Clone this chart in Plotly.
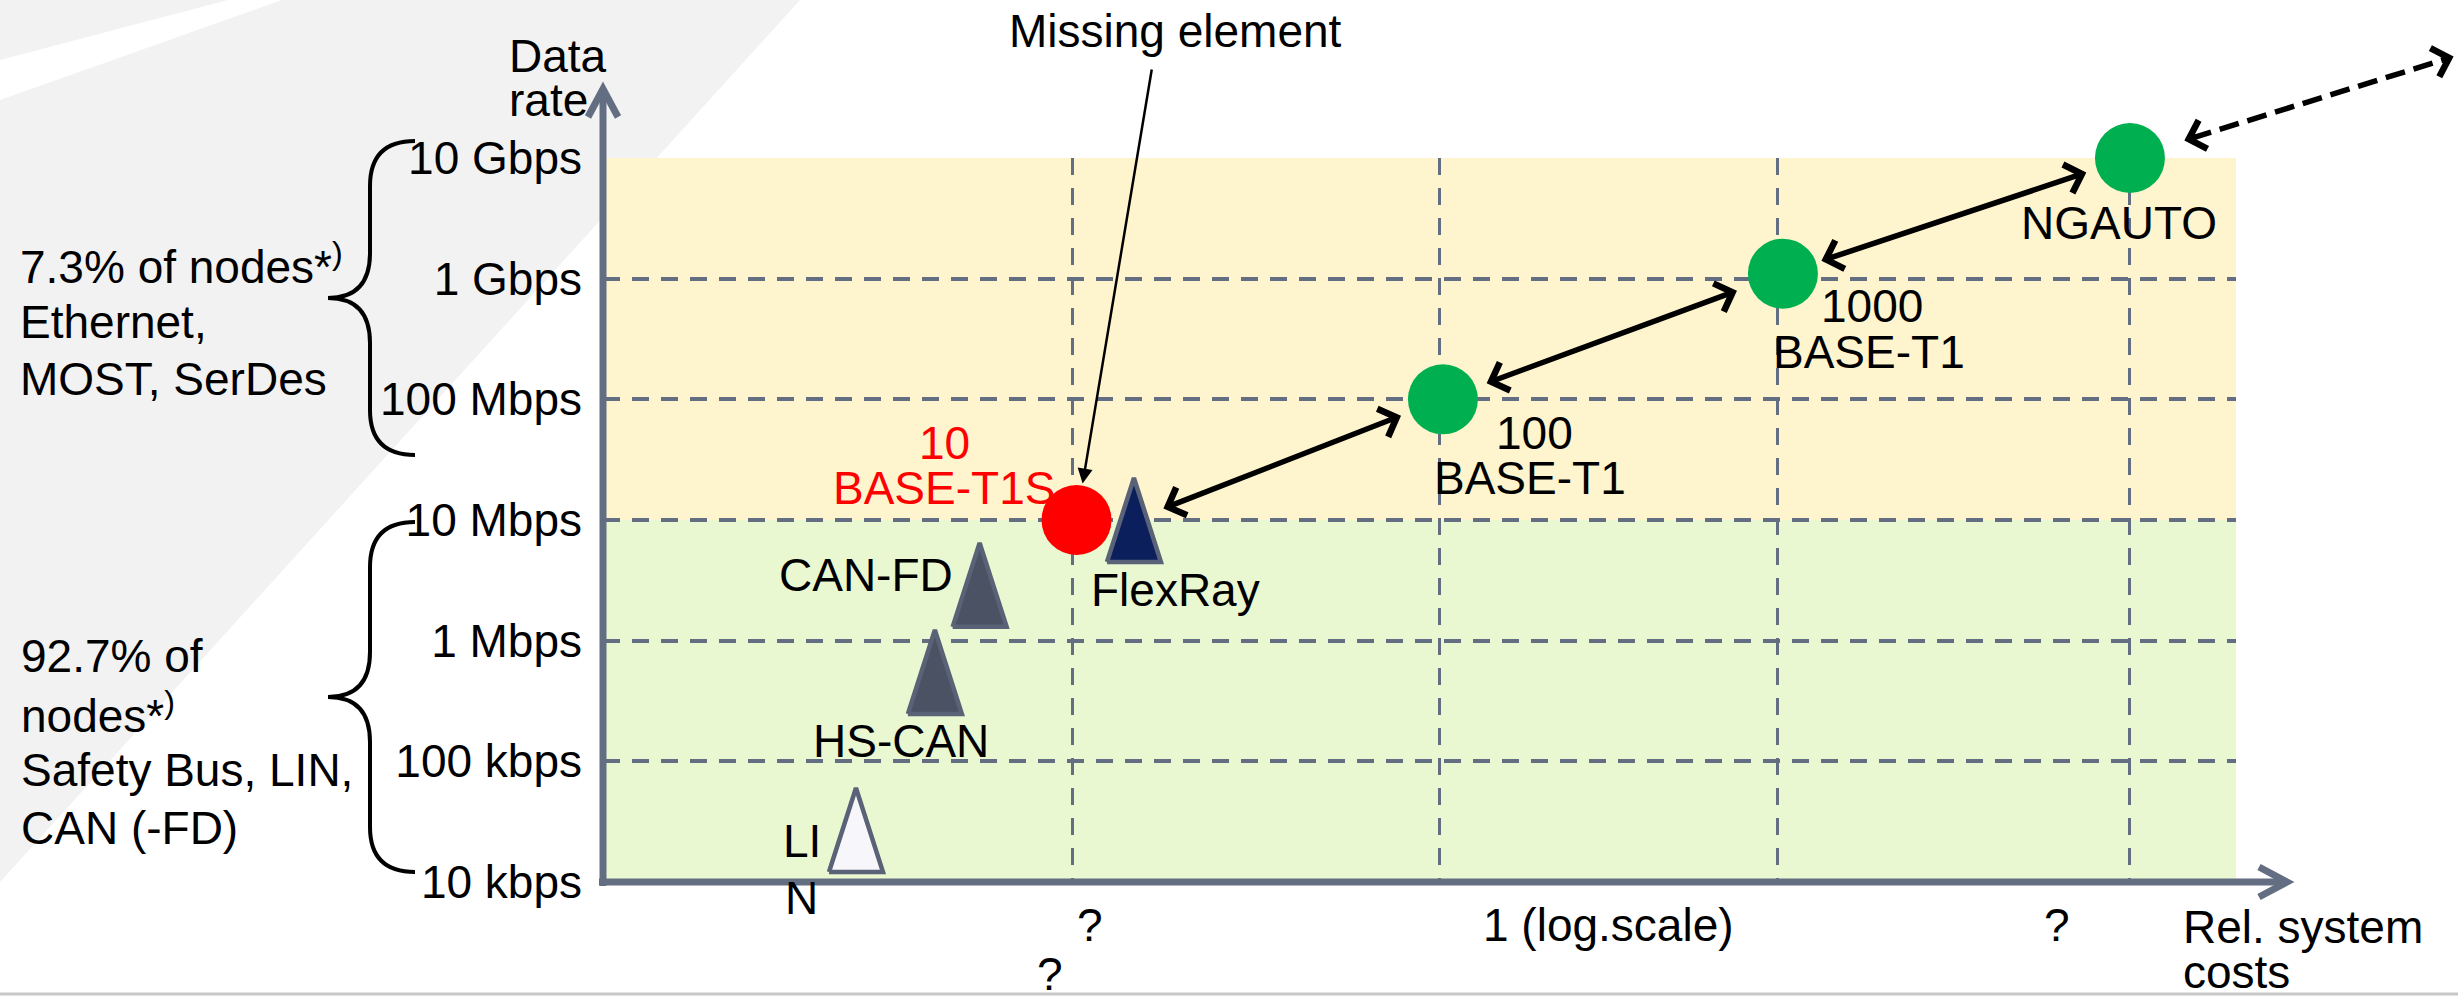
import math
import plotly.graph_objects as go

# ---------------- data ----------------
# Ethernet generations (drawn as circles)
eth_names = ["10BASE-T1S", "100BASE-T1", "1000BASE-T1", "NGAUTO"]
eth_lines = [["10", "BASE-T1S"], ["100", "BASE-T1"], ["1000", "BASE-T1"], ["NGAUTO"]]
eth_cost = [1.01, 2.05, 3.015, 4.0]          # relative system cost position
eth_rate = [1e7, 1e8, 1.1e9, 1e10]           # data rate in bit/s

# Classic in-vehicle buses (drawn as triangles)
bus_names = ["FlexRay", "CAN-FD", "HS-CAN", "LIN"]
bus_lines = [["FlexRay"], ["CAN-FD"], ["HS-CAN"], ["LI", "N"]]
bus_cost = [1.173, 0.735, 0.608, 0.384]
bus_rate = [1e7, 2.9e6, 5.5e5, 2.7e4]

rate_ticks = [1e4, 1e5, 1e6, 1e7, 1e8, 1e9, 1e10]
rate_tick_text = ["10 kbps", "100 kbps", "1 Mbps", "10 Mbps", "100 Mbps", "1 Gbps", "10 Gbps"]
cost_grid = [1.0, 2.04, 3.0, 4.0]
cost_tick_pos = [1.048, 2.519, 3.793]
cost_tick_text = ["?", "1 (log.scale)", "?"]
cost_extra_pos = 0.935
cost_extra_text = "?"

upper_group_text = ["7.3% of nodes*<sup>)</sup>", "Ethernet,", "MOST, SerDes"]
lower_group_text = ["92.7% of", "nodes*<sup>)</sup>", "Safety Bus, LIN,", "CAN (-FD)"]

# ---------------- geometry & style ----------------
W, H = 2458, 998
PL, PR, PT, PB = 603, 2236, 158, 882          # plot-area box in pixels
X_RANGE = [-0.334, 4.301]
Y_RANGE = [4, 10]                              # log10(bit/s)
PX_PER_COST = (PR - PL) / (X_RANGE[1] - X_RANGE[0])
PX_PER_DEC = (PB - PT) / (Y_RANGE[1] - Y_RANGE[0])

FONT = "Liberation Sans, Arial, Helvetica, sans-serif"
FS = 46
MID = 0.3465 * FS                              # baseline -> text-box middle
AXIS_C = "#646E82"
YELLOW = "#FEF4CE"
GREEN = "#EAF8D2"
BACK_GRAY = "#F2F2F2"
eth_colors = ["#FF0000", "#00B050", "#00B050", "#00B050"]
eth_label_color = ["#FF0000", "black", "black", "black"]
bus_fill = ["#0B1F5C", "#4B5263", "#4B5263", "#F7F7FB"]
TRI_EDGE = "#596276"
TRI_W, TRI_H = 54, 84
CIRCLE = 70
ARROW_W = 5.5

# label placement relative to each mark: (dx, baseline dy) per line, anchor
eth_label_pos = [[(-132, -61), (-133, -16)], [(92, 50), (87, 95)], [(89, 48), (86, 94)], [(-11, 81)]]
bus_label_pos = [[(42, 86)], [(-114, 6)], [(-34, 85)], [(-54, 27), (-54, 84)]]
bus_label_anchor = ["center", "center", "center", "center"]


def to_px(cost, rate):
    return (PL + (cost - X_RANGE[0]) * PX_PER_COST,
            PB - (math.log10(rate) - Y_RANGE[0]) * PX_PER_DEC)


def paper(x, y):
    return (x - PL) / (PR - PL), (PB - y) / (PB - PT)


def svg_path(cmds):
    out = []
    for cmd in cmds:
        op, pts = cmd[0], cmd[1:]
        coords = " ".join("%.5f,%.5f" % paper(*p) for p in pts)
        out.append(op + " " + coords if pts else op)
    return " ".join(out)


def page_text(x, baseline, text, anchor="center", color="black"):
    xp, yp = paper(x, baseline - MID)
    return dict(xref="paper", yref="paper", x=xp, y=yp, xanchor=anchor, yanchor="middle",
                text=text, showarrow=False, font=dict(family=FONT, size=FS, color=color))


def mark_text(cost, rate, dx, dy, text, anchor="center", color="black"):
    return dict(xref="x", yref="y", x=cost, y=math.log10(rate), xshift=dx, yshift=-(dy - MID),
                xanchor=anchor, yanchor="middle", text=text, showarrow=False,
                font=dict(family=FONT, size=FS, color=color))


fig = go.Figure()

# circles: Ethernet generations
fig.add_trace(go.Scatter(
    x=eth_cost, y=eth_rate, mode="markers", cliponaxis=False, hoverinfo="skip",
    marker=dict(size=CIRCLE, color=eth_colors, line=dict(width=0)),
))

# triangles: legacy buses
hw = TRI_W / 2 / PX_PER_COST
hh = TRI_H / 2 / PX_PER_DEC
for c, r, fill in zip(bus_cost, bus_rate, bus_fill):
    fig.add_trace(go.Scatter(
        x=[c - hw, c, c + hw, c - hw],
        y=[r * 10 ** (-hh), r * 10 ** hh, r * 10 ** (-hh), r * 10 ** (-hh)],
        mode="lines", fill="toself", fillcolor=fill, cliponaxis=False, hoverinfo="skip",
        line=dict(color=TRI_EDGE, width=4.5),
    ))

shapes = []
# slide backdrop
shapes.append(dict(type="path", xref="paper", yref="paper", layer="below",
                   path=svg_path([("M", (0, 0)), ("L", (800, 0)), ("L", (0, 882)), ("Z",)]),
                   fillcolor=BACK_GRAY, line=dict(width=0)))
shapes.append(dict(type="path", xref="paper", yref="paper", layer="below",
                   path=svg_path([("M", (0, 60)), ("L", (228, 0)), ("L", (282, 0)), ("L", (0, 100)), ("Z",)]),
                   fillcolor="white", line=dict(width=0)))
# rate bands
shapes.append(dict(type="rect", xref="paper", yref="y", x0=0, x1=1, y0=1e7, y1=1e10,
                   fillcolor=YELLOW, line=dict(width=0), layer="below"))
shapes.append(dict(type="rect", xref="paper", yref="y", x0=0, x1=1, y0=1e4, y1=1e7,
                   fillcolor=GREEN, line=dict(width=0), layer="below"))
# axes with open arrow tips
shapes.append(dict(type="path", xref="paper", yref="paper",
                   path=svg_path([("M", (PL, 886)), ("L", (PL, 90))]),
                   line=dict(color=AXIS_C, width=7)))
shapes.append(dict(type="path", xref="paper", yref="paper",
                   path=svg_path([("M", (PL - 15, 117)), ("L", (PL, 89)), ("L", (PL + 15, 117))]),
                   line=dict(color=AXIS_C, width=7)))
shapes.append(dict(type="path", xref="paper", yref="paper",
                   path=svg_path([("M", (599, PB)), ("L", (2286, PB))]),
                   line=dict(color=AXIS_C, width=7)))
shapes.append(dict(type="path", xref="paper", yref="paper",
                   path=svg_path([("M", (2259, PB - 15)), ("L", (2287, PB)), ("L", (2259, PB + 15))]),
                   line=dict(color=AXIS_C, width=7)))
# curly braces grouping the rate ranges
for top, bot in [(141, 455), (522, 872)]:
    mid = (top + bot) / 2
    shapes.append(dict(type="path", xref="paper", yref="paper",
                       path=svg_path([("M", (415, top)), ("Q", (370, top), (370, top + 45)),
                                      ("L", (370, mid - 45)), ("Q", (370, mid), (328, mid)),
                                      ("Q", (370, mid), (370, mid + 45)), ("L", (370, bot - 45)),
                                      ("Q", (370, bot), (415, bot))]),
                       line=dict(color="black", width=4)))
# dashed extension beyond NGAUTO
ngx, ngy = to_px(eth_cost[3], eth_rate[3])
d_start = (ngx + 62, ngy - 20)
d_end = (ngx + 316, ngy - 99)
shapes.append(dict(type="path", xref="paper", yref="paper",
                   path=svg_path([("M", d_start), ("L", d_end)]),
                   line=dict(color="black", width=ARROW_W, dash="20px,9px")))
# bottom rule
shapes.append(dict(type="path", xref="paper", yref="paper",
                   path=svg_path([("M", (0, 994)), ("L", (W, 994))]),
                   line=dict(color="#C8C8C8", width=3)))

ann = []
# labels next to marks
for c, r, lines, pos, col in zip(eth_cost, eth_rate, eth_lines, eth_label_pos, eth_label_color):
    for t, (dx, dy) in zip(lines, pos):
        ann.append(mark_text(c, r, dx, dy, t, color=col))
for c, r, lines, pos, anc in zip(bus_cost, bus_rate, bus_lines, bus_label_pos, bus_label_anchor):
    for t, (dx, dy) in zip(lines, pos):
        ann.append(mark_text(c, r, dx, dy, t, anchor=anc))

# double-headed arrows along the Ethernet roadmap
chain = [(bus_cost[0], bus_rate[0])] + list(zip(eth_cost[1:], eth_rate[1:]))
standoffs = [(30, 45), (45, 49), (39, 46)]
for (c0, r0), (c1, r1), (s0, s1) in zip(chain[:-1], chain[1:], standoffs):
    ann.append(dict(xref="x", yref="y", axref="x", ayref="y",
                    x=c1, y=math.log10(r1), ax=c0, ay=math.log10(r0), text="",
                    showarrow=True, arrowside="end+start", arrowhead=4, startarrowhead=4,
                    arrowsize=1.05, startarrowsize=1.05, arrowwidth=ARROW_W, arrowcolor="black",
                    standoff=s1, startstandoff=s0))
# heads of the dashed extension
ux, uy = (d_end[0] - d_start[0]), (d_end[1] - d_start[1])
ln = math.hypot(ux, uy)
ux, uy = ux / ln, uy / ln
for tip, sgn in [((d_start[0] - 8 * ux, d_start[1] - 8 * uy), 1), ((d_end[0] + 8 * ux, d_end[1] + 8 * uy), -1)]:
    xp, yp = paper(*tip)
    ann.append(dict(xref="paper", yref="paper", x=xp, y=yp, ax=sgn * 14 * ux, ay=sgn * 14 * uy,
                    text="", showarrow=True, arrowhead=4, arrowsize=1.05, arrowwidth=ARROW_W,
                    arrowcolor="black"))

# "Missing element" call-out
rx, ry = to_px(eth_cost[0], eth_rate[0])
ann.append(dict(xref="x", yref="y", x=eth_cost[0], y=math.log10(eth_rate[0]),
                ax=1152 - rx, ay=68 - ry, text="", showarrow=True, arrowhead=2,
                arrowsize=1.2, arrowwidth=2.5, arrowcolor="black", standoff=37))
ann.append(page_text(1175, 47, "Missing element"))

# axis titles and cost labels
ann.append(page_text(507, 72, "Data", anchor="left"))
ann.append(page_text(507, 116, "rate", anchor="left"))
ann.append(page_text(2181, 943, "Rel. system", anchor="left"))
ann.append(page_text(2181, 988, "costs", anchor="left"))
_, row_y = paper(0, 941 - MID)
for p, t in zip(cost_tick_pos, cost_tick_text):
    ann.append(dict(xref="x", yref="paper", x=p, y=row_y, xanchor="center", yanchor="middle",
                    text=t, showarrow=False, font=dict(family=FONT, size=FS, color="black")))
_, extra_y = paper(0, 990 - MID)
ann.append(dict(xref="x", yref="paper", x=cost_extra_pos, y=extra_y, xanchor="center", yanchor="middle",
                text=cost_extra_text, showarrow=False, font=dict(family=FONT, size=FS, color="black")))

# share-of-nodes group captions
for t, b in zip(upper_group_text, [280, 338, 395]):
    ann.append(page_text(18, b, t, anchor="left"))
for t, b in zip(lower_group_text, [672, 729, 786, 844]):
    ann.append(page_text(19, b, t, anchor="left"))

fig.update_layout(
    width=W, height=H, autosize=False,
    margin=dict(l=PL, r=W - PR, t=PT, b=H - PB, pad=0),
    paper_bgcolor="white", plot_bgcolor="rgba(0,0,0,0)",
    showlegend=False, hovermode=False,
    shapes=shapes, annotations=ann,
    xaxis=dict(range=X_RANGE, tickvals=cost_grid, showticklabels=False, ticks="",
               showgrid=True, gridcolor=AXIS_C, gridwidth=3, griddash="17px,13px",
               zeroline=False, showline=False, fixedrange=True),
    yaxis=dict(type="log", range=Y_RANGE, tickvals=rate_ticks, ticktext=rate_tick_text,
               ticks="", ticklabelstandoff=20,
               tickfont=dict(family=FONT, size=FS, color="black"),
               showgrid=True, gridcolor=AXIS_C, gridwidth=4, griddash="17px,12px",
               zeroline=False, showline=False, fixedrange=True),
)

fig.write_html("out.html")
